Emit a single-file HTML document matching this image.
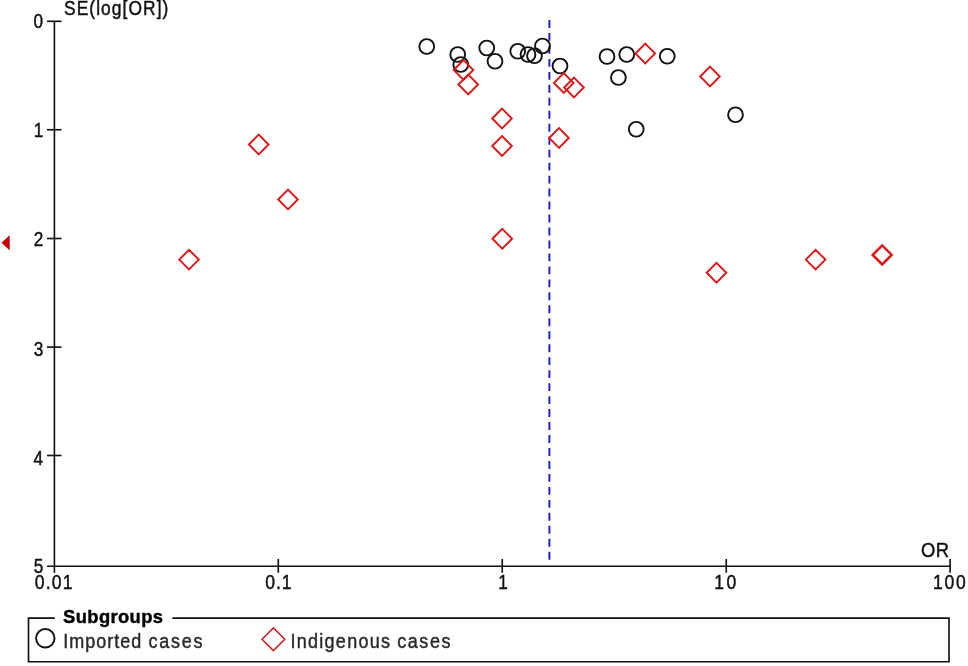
<!DOCTYPE html>
<html lang="en"><head><meta charset="utf-8"><title>Funnel plot</title>
<style>html,body{margin:0;padding:0;background:#fff}svg{display:block}text{font-family:"Liberation Sans",Arial,sans-serif;font-size:20px}</style>
</head><body>
<svg width="968" height="666" viewBox="0 0 968 666">
<rect width="968" height="666" fill="#fff"/>
<g stroke="#111" stroke-width="1.65" fill="none">
<line x1="54.4" y1="21.3" x2="54.4" y2="572.75"/>
<line x1="47" y1="566.25" x2="950.9" y2="566.25"/>
<line x1="47" y1="21.3" x2="61.5" y2="21.3"/>
<line x1="47" y1="129.75" x2="61.5" y2="129.75"/>
<line x1="47" y1="238.5" x2="61.5" y2="238.5"/>
<line x1="47" y1="347.1" x2="61.5" y2="347.1"/>
<line x1="47" y1="455.5" x2="61.5" y2="455.5"/>
<line x1="278.3" y1="559" x2="278.3" y2="572.75"/>
<line x1="502.25" y1="559" x2="502.25" y2="572.75"/>
<line x1="726.25" y1="559" x2="726.25" y2="572.75"/>
<line x1="950.1" y1="559" x2="950.1" y2="572.75"/>
</g>
<line x1="549.4" y1="20" x2="549.4" y2="560" stroke="#1a1ac8" stroke-width="1.9" stroke-dasharray="7.9 5.07"/>
<text transform="matrix(0.86 0 0 1.01 33.42 28.20)" fill="#111" stroke="#111" stroke-width="0.45">0</text>
<text transform="matrix(0.86 0 0 1.01 33.64 137.10)" fill="#111" stroke="#111" stroke-width="0.45">1</text>
<text transform="matrix(0.86 0 0 1.01 33.64 245.90)" fill="#111" stroke="#111" stroke-width="0.45">2</text>
<text transform="matrix(0.86 0 0 1.01 33.64 355.75)" fill="#111" stroke="#111" stroke-width="0.45">3</text>
<text transform="matrix(0.86 0 0 1.01 33.42 464.50)" fill="#111" stroke="#111" stroke-width="0.45">4</text>
<text transform="matrix(0.86 0 0 1.01 33.64 572.75)" fill="#111" stroke="#111" stroke-width="0.45">5</text>
<text transform="matrix(0.8800 0 0 0.9895 34.79 589.35)" letter-spacing="1.288" fill="#111" stroke="#111" stroke-width="0.45">0.01</text>
<text transform="matrix(0.8800 0 0 0.9895 265.29 589.35)" letter-spacing="1.040" fill="#111" stroke="#111" stroke-width="0.45">0.1</text>
<text transform="matrix(0.86 0 0 1.01 498.2 589.45)" fill="#111" stroke="#111" stroke-width="0.45">1</text>
<text transform="matrix(0.8800 0 0 0.9895 714.13 589.35)" letter-spacing="2.841" fill="#111" stroke="#111" stroke-width="0.45">10</text>
<text transform="matrix(0.8800 0 0 0.9895 933.03 589.35)" letter-spacing="1.960" fill="#111" stroke="#111" stroke-width="0.45">100</text>
<text transform="matrix(0.8700 0 0 0.9895 63.98 15.15)" letter-spacing="1.226" fill="#111" stroke="#111" stroke-width="0.45">SE(log[OR])</text>
<text transform="matrix(0.9200 0 0 0.9965 920.93 556.85)" letter-spacing="0.478" fill="#111" stroke="#111" stroke-width="0.45">OR</text>
<polygon points="1.5,242.8 9.7,235.2 9.7,250.5" fill="#c80000"/>
<g fill="none" stroke="#111" stroke-width="1.9">
<circle cx="426.75" cy="46.5" r="7.4"/>
<circle cx="457.75" cy="54.5" r="7.4"/>
<circle cx="460.75" cy="64.5" r="7.4"/>
<circle cx="486.75" cy="48" r="7.4"/>
<circle cx="495" cy="61.25" r="7.4"/>
<circle cx="517.75" cy="51.25" r="7.4"/>
<circle cx="528" cy="54.5" r="7.4"/>
<circle cx="534.5" cy="55.75" r="7.4"/>
<circle cx="542.5" cy="46" r="7.4"/>
<circle cx="560" cy="66" r="7.4"/>
<circle cx="607" cy="56.5" r="7.4"/>
<circle cx="626.75" cy="54.5" r="7.4"/>
<circle cx="618.4" cy="77.5" r="7.4"/>
<circle cx="667.25" cy="56.25" r="7.4"/>
<circle cx="636.25" cy="129.25" r="7.4"/>
<circle cx="735.5" cy="114.75" r="7.4"/>
</g>
<g fill="none" stroke="#dc1616" stroke-width="1.9">
<path d="M453.70 70L463.5 60.20L473.30 70L463.5 79.80Z"/>
<path d="M458.45 84.5L468.25 74.70L478.05 84.5L468.25 94.30Z"/>
<path d="M492.20 118.5L502 108.70L511.80 118.5L502 128.30Z"/>
<path d="M492.20 146L502 136.20L511.80 146L502 155.80Z"/>
<path d="M553.95 83L563.75 73.20L573.55 83L563.75 92.80Z"/>
<path d="M564.20 87.5L574 77.70L583.80 87.5L574 97.30Z"/>
<path d="M549.20 138L559 128.20L568.80 138L559 147.80Z"/>
<path d="M635.45 53.5L645.25 43.70L655.05 53.5L645.25 63.30Z"/>
<path d="M700.20 76.5L710 66.70L719.80 76.5L710 86.30Z"/>
<path d="M248.95 144.5L258.75 134.70L268.55 144.5L258.75 154.30Z"/>
<path d="M278.20 199.5L288 189.70L297.80 199.5L288 209.30Z"/>
<path d="M179.20 259.6L189 249.80L198.80 259.6L189 269.40Z"/>
<path d="M492.45 238.75L502.25 228.95L512.05 238.75L502.25 248.55Z"/>
<path d="M706.70 272.75L716.5 262.95L726.30 272.75L716.5 282.55Z"/>
<path d="M805.80 259.6L815.6 249.80L825.40 259.6L815.6 269.40Z"/>
<path stroke-width="2.5" d="M872.70 254.9L882.2 245.40L891.70 254.9L882.2 264.40Z"/>
</g>
<path d="M54.75 618.1H28.5V661.7H949V618.1H172.3" fill="none" stroke="#111" stroke-width="1.65"/>
<text transform="matrix(0.9200 0 0 0.9544 63.09 623.06)" font-weight="bold" letter-spacing="0.386" fill="#000" stroke="#000" stroke-width="0.45">Subgroups</text>
<circle cx="45.3" cy="638.3" r="9.25" fill="none" stroke="#111" stroke-width="1.9"/>
<text transform="matrix(0.9000 0 0 1.0182 63.28 647.80)" fill="#2a2a2a" stroke="#2a2a2a" stroke-width="0.45"><tspan letter-spacing="1.095">Imported </tspan><tspan x="94.72" letter-spacing="1.924">cases</tspan></text>
<path fill="none" stroke="#c8221e" stroke-width="1.55" d="M262.05 639.3L273.4 627.95L284.75 639.3L273.4 650.65Z"/>
<text transform="matrix(0.9000 0 0 1.0182 290.38 647.80)" fill="#2a2a2a" stroke="#2a2a2a" stroke-width="0.45"><tspan letter-spacing="1.438">Indigenous </tspan><tspan x="118.78" letter-spacing="1.715">cases</tspan></text>
</svg>
</body></html>
